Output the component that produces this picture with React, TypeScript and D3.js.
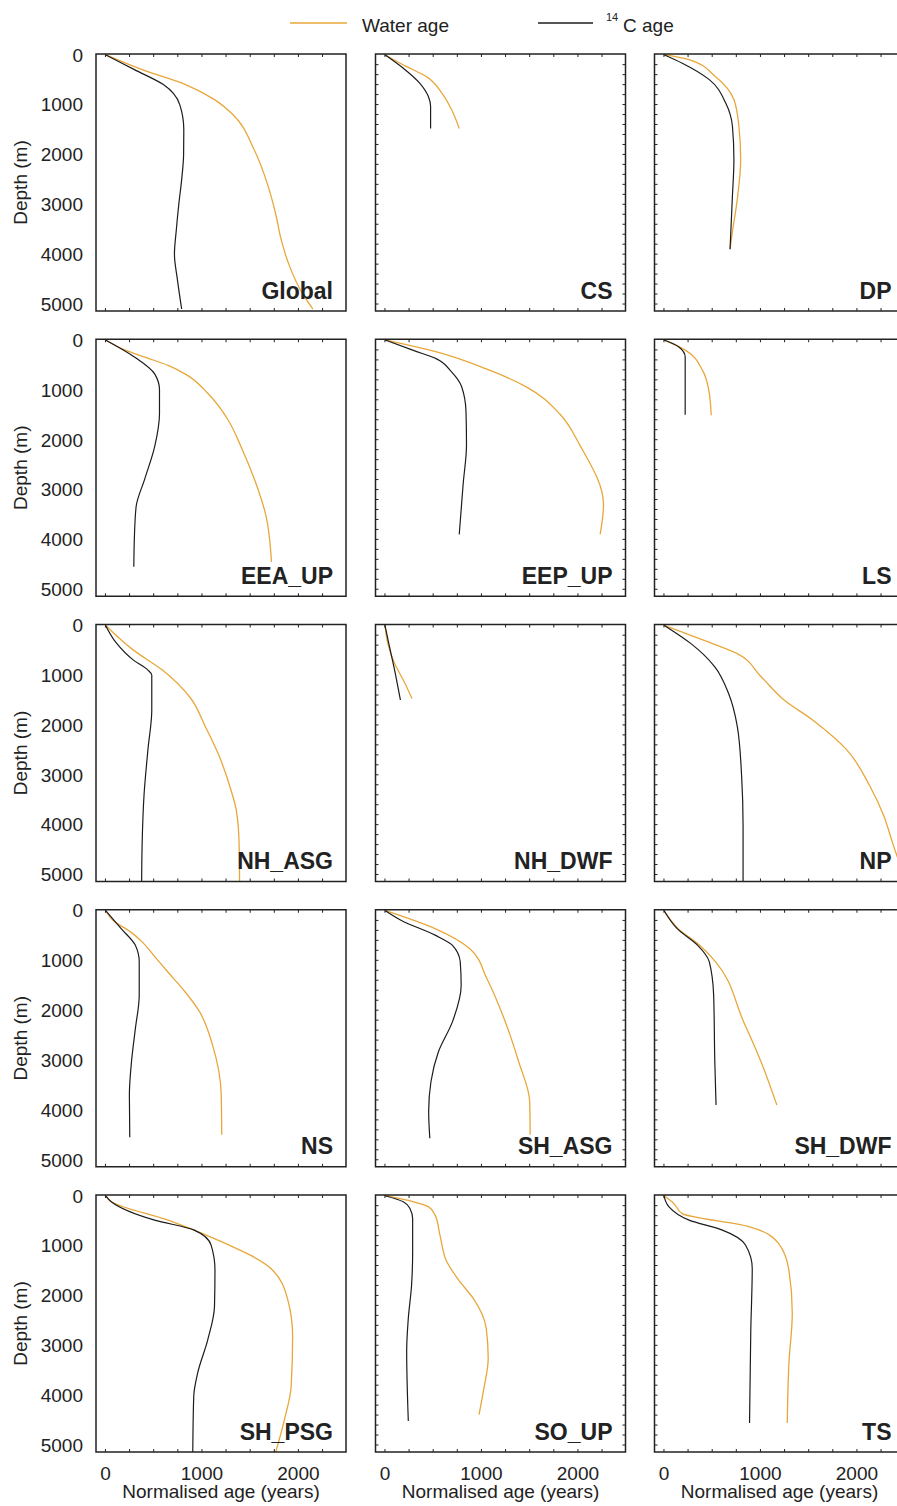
import React from "react";
import * as d3 from "d3";

// Each series: [depth (m), normalised age (years)]
const globalWater = [[0,0],[300,380],[600,830],[900,1130],[1200,1320],[1900,1540],[2600,1680],[3200,1765],[3700,1820],[4200,1900],[4750,2030],[5100,2150]];
const globalC14 = [[0,0],[300,300],[600,600],[1000,770],[1500,812],[2000,810],[2500,790],[3000,760],[3500,735],[4000,715],[4500,745],[5100,790]];
const csWater = [[0,0],[240,225],[440,430],[770,590],[1100,690],[1480,770]];
const csC14 = [[0,0],[270,190],[570,360],[840,450],[1040,473],[1480,473]];
const dpWater = [[0,0],[100,260],[440,535],[900,725],[1440,777],[2100,795],[2900,760],[3570,708],[3900,685]];
const dpC14 = [[0,0],[170,190],[500,470],[970,640],[1440,710],[2100,725],[2900,708],[3900,685]];
const eeaWater = [[0,0],[200,200],[340,400],[510,650],[710,850],[1070,1060],[1600,1270],[2140,1405],[2800,1545],[3540,1665],[4350,1717],[4450,1720]];
const eeaC14 = [[0,0],[340,300],[680,510],[1000,560],[1480,560],[2140,510],[2800,405],[3340,318],[3950,300],[4550,294]];
const eepWater = [[0,0],[240,535],[580,1050],[940,1465],[1480,1810],[2110,2020],[3300,2265],[3900,2230]];
const eepC14 = [[0,0],[210,295],[380,535],[640,690],[940,795],[1440,840],[2100,845],[2900,810],[3900,770]];
const lsWater = [[0,0],[210,225],[610,400],[1010,465],[1510,490]];
const lsC14 = [[0,0],[140,155],[340,220],[800,220],[1500,220]];
const nhAsgWater = [[0,0],[500,290],[900,590],[1470,885],[2030,1035],[2630,1180],[3300,1300],[3700,1355],[4370,1385],[5140,1390]];
const nhAsgC14 = [[0,0],[350,110],[700,290],[900,440],[1000,480],[1700,480],[2500,440],[3400,400],[4400,380],[5140,375]];
const nhDwfWater = [[0,0],[370,30],[770,100],[1100,190],[1470,280]];
const nhDwfC14 = [[0,0],[370,40],[900,100],[1500,160]];
const npWater = [[0,0],[300,410],[570,760],[1030,1005],[1500,1245],[1900,1540],[2500,1895],[3230,2135],[3830,2280],[4370,2370],[5000,2480]];
const npC14 = [[0,0],[370,280],[830,525],[1370,670],[2030,760],[3030,805],[4030,820],[5140,820]];
const nsWater = [[0,0],[200,80],[430,260],[630,380],[900,500],[1230,645],[1630,825],[2030,975],[2700,1110],[3700,1200],[4500,1205]];
const nsC14 = [[0,0],[370,165],[700,310],[1030,350],[1700,350],[2370,310],[3030,270],[3700,248],[4550,252]];
const shAsgWater = [[0,0],[370,525],[770,880],[1370,1057],[2170,1235],[3030,1385],[3830,1500],[4500,1505]];
const shAsgC14 = [[0,0],[200,170],[500,525],[700,700],[1030,780],[1500,790],[2230,700],[2830,555],[3430,477],[4030,453],[4570,465]];
const shDwfWater = [[0,0],[370,150],[650,340],[1030,535],[2230,825],[3030,1005],[3900,1170]];
const shDwfC14 = [[0,0],[370,140],[700,350],[1030,470],[1700,515],[3030,527],[3900,540]];
const shPsgWater = [[0,0],[120,60],[490,650],[890,1165],[1460,1715],[2090,1890],[2820,1940],[3820,1925],[4490,1855],[5140,1765]];
const shPsgC14 = [[0,0],[120,60],[490,510],[690,920],[990,1095],[1490,1135],[2220,1130],[2890,1060],[3560,955],[4020,915],[5140,905]];
const soUpWater = [[0,0],[120,290],[220,450],[390,520],[790,570],[1320,640],[1720,775],[2060,915],[2660,1050],[3260,1070],[3920,1020],[4390,975]];
const soUpC14 = [[0,0],[120,190],[260,260],[460,287],[1120,287],[1790,276],[2460,242],[3120,225],[4520,242]];
const tsWater = [[0,0],[150,100],[360,190],[620,880],[960,1190],[1490,1295],[2360,1330],[3360,1295],[4560,1278]];
const tsC14 = [[0,0],[220,50],[490,260],[690,605],[990,845],[1460,915],[2690,900],[4560,887]];

const panelNames = ["Global","CS","DP","EEA_UP","EEP_UP","LS","NH_ASG","NH_DWF","NP","NS","SH_ASG","SH_DWF","SH_PSG","SO_UP","TS"];
const waterSeries = [globalWater,csWater,dpWater,eeaWater,eepWater,lsWater,nhAsgWater,nhDwfWater,npWater,nsWater,shAsgWater,shDwfWater,shPsgWater,soUpWater,tsWater];
const c14Series = [globalC14,csC14,dpC14,eeaC14,eepC14,lsC14,nhAsgC14,nhDwfC14,npC14,nsC14,shAsgC14,shDwfC14,shPsgC14,soUpC14,tsC14];

const depthTicks = [0, 1000, 2000, 3000, 4000, 5000];
const ageTicks = [0, 1000, 2000];

const ORANGE = "#E8A73A";
const BLACK = "#1c1c1c";
const FONT = "Liberation Sans, Arial, Helvetica, sans-serif";

const W = 897, H = 1506;
const colLefts = [96, 375.5, 654.5];
const rowTops = [54, 339.25, 624.5, 909.75, 1195];
const PW = 250, PH = 257;

export default function App() {
  return (
    <div style={{ position: "absolute", left: 0, top: 0 }}>
      <svg width={W} height={H} style={{ display: "block", background: "#fff" }} fontFamily={FONT}>
        <defs>
          {panelNames.map((n, i) => {
            const c = i % 3, r = Math.floor(i / 3);
            return (
              <clipPath id={`clip${i}`} key={n}>
                <rect x={colLefts[c]} y={rowTops[r]} width={PW} height={PH} />
              </clipPath>
            );
          })}
        </defs>
        {/* legend */}
        <line x1={290} x2={347} y1={23} y2={23} stroke={ORANGE} strokeWidth={1.3} />
        <text x={362} y={32} fontSize={19} fill="#222">Water age</text>
        <line x1={538} x2={593} y1={23} y2={23} stroke={BLACK} strokeWidth={1.3} />
        <text x={606} y={21} fontSize={11} fill="#222">14</text>
        <text x={623} y={32} fontSize={19} fill="#222">C age</text>

        {panelNames.map((name, i) => {
          const c = i % 3, r = Math.floor(i / 3);
          const left = colLefts[c], top = rowTops[r];
          const x = d3.scaleLinear().domain([-98, 2493]).range([left, left + PW]);
          const y = d3.scaleLinear().domain([-14, 5140]).range([top, top + PH]);
          const line = d3.line<number[]>().x((d) => x(d[1])).y((d) => y(d[0])).curve(d3.curveMonotoneY);
          const xMinor = d3.range(0, 2500, 250);
          const yMinor = d3.range(200, 5001, 200);
          return (
            <g key={name}>
              <g clipPath={`url(#clip${i})`}>
                <path d={line(waterSeries[i]) || ""} fill="none" stroke={ORANGE} strokeWidth={1.3} />
                <path d={line(c14Series[i]) || ""} fill="none" stroke={BLACK} strokeWidth={1.2} />
              </g>
              {xMinor.map((t) => (
                <g key={"xt" + t}>
                  <line x1={x(t)} x2={x(t)} y1={top + PH} y2={top + PH - 3} stroke="#222" strokeWidth={1} />
                  <line x1={x(t)} x2={x(t)} y1={top} y2={top + 3} stroke="#222" strokeWidth={1} />
                </g>
              ))}
              {c > 0 && yMinor.map((t) => (
                <g key={"yt" + t}>
                  <line x1={left} x2={left + 3} y1={y(t)} y2={y(t)} stroke="#222" strokeWidth={1} />
                  <line x1={left + PW} x2={left + PW - 3} y1={y(t)} y2={y(t)} stroke="#222" strokeWidth={1} />
                </g>
              ))}
              <rect x={left} y={top} width={PW} height={PH} fill="none" stroke="#222" strokeWidth={1.5} />
              <text x={left + PW - 13} y={top + PH - 12.5} textAnchor="end" fontSize={23} fontWeight="bold" fill="#222">{name}</text>
              {c === 0 && depthTicks.map((t) => (
                <text key={"yl" + t} x={83} y={y(t)} dy="0.36em" textAnchor="end" fontSize={19} fill="#222">{t}</text>
              ))}
              {c === 0 && (
                <text transform={`translate(27,${top + PH / 2}) rotate(-90)`} textAnchor="middle" fontSize={19} fill="#222">Depth (m)</text>
              )}
              {r === 4 && ageTicks.map((t) => (
                <text key={"xl" + t} x={x(t)} y={top + PH + 28} textAnchor="middle" fontSize={19} fill="#222">{t}</text>
              ))}
              {r === 4 && (
                <text x={left + PW / 2} y={top + PH + 46} textAnchor="middle" fontSize={19} fill="#222">Normalised age (years)</text>
              )}
            </g>
          );
        })}
      </svg>
    </div>
  );
}
